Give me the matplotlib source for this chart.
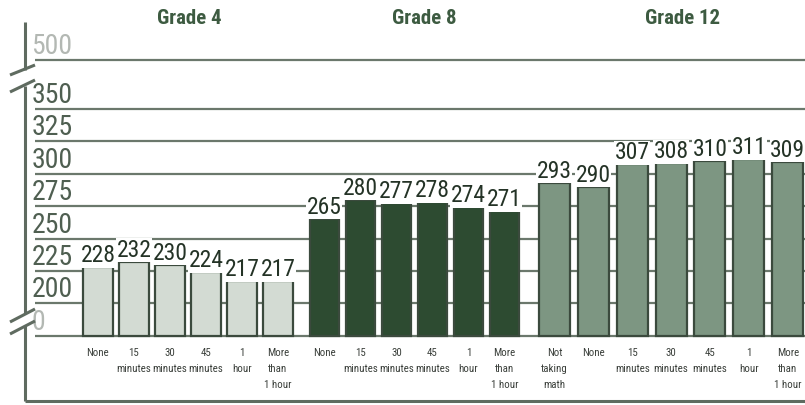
import numpy as np
import matplotlib
matplotlib.use("Agg")
import matplotlib.pyplot as plt

output = "out.png"
plt.rcParams['font.family'] = ['Roboto Condensed', 'Liberation Sans Narrow', 'Roboto', 'DejaVu Sans']

grades = ["Grade 4", "Grade 8", "Grade 12"]
grade4 = [228, 232, 230, 224, 217, 217]
grade8 = [265, 280, 277, 278, 274, 271]
grade12 = [293, 290, 307, 308, 310, 311, 309]
labels4 = ["None", "15\nminutes", "30\nminutes", "45\nminutes", "1\nhour", "More\nthan\n1 hour"]
labels8 = ["None", "15\nminutes", "30\nminutes", "45\nminutes", "1\nhour", "More\nthan\n1 hour"]
labels12 = ["Not\ntaking\nmath", "None", "15\nminutes", "30\nminutes", "45\nminutes", "1\nhour", "More\nthan\n1 hour"]
yticks = [0, 200, 225, 250, 275, 300, 325, 350, 500]

fills = ["#d3dbd3", "#2d4b31", "#7d9682"]
edge = "#3b4a3d"
grid_c = "#6b786c"
W, H = 805, 405


def fwd(v):
    v = np.asarray(v, dtype=float)
    return np.where(v <= 200, 175 + v / 8.0,
                    np.where(v <= 350, v, 350 + (v - 350) * 0.2513))


def inv(t):
    t = np.asarray(t, dtype=float)
    return np.where(t <= 200, (t - 175) * 8.0,
                    np.where(t <= 350, t, 350 + (t - 350) / 0.2513))


def px(x, y):
    # pixel (from top-left) -> axes fraction
    return x / W, 1 - y / H


fig = plt.figure(figsize=(8.05, 4.05), dpi=100)
ax = fig.add_axes([0, 0, 1, 1])
ax.set_yscale('function', functions=(fwd, inv))
ax.set_xlim(-2.72, 19.64)
ax.set_ylim(-424.8, 682.3)
ax.axis('off')

# gridlines
ax.hlines(yticks, -1.75, 19.64, color=grid_c, lw=1.6, zorder=1)
for t in yticks:
    c = "#b3b8b3" if t in (0, 500) else "#4f5f51"
    ax.text(-1.85, t, str(t), fontsize=20, color=c, ha='left', va='bottom', zorder=2)

groups = [(grade4, labels4, 0.0, 1.0, 0.81),
          (grade8, labels8, 6.29, 1.0, 0.81),
          (grade12, labels12, 12.68, 1.08, 0.86)]
title_x = [2.55, 9.06, 16.25]

for gi, (vals, labs, start, step, w) in enumerate(groups):
    x = start + step * np.arange(len(vals))
    ax.bar(x, vals, width=w, color=fills[gi], edgecolor=edge, linewidth=1.6, zorder=3)
    for xi, v in zip(x, vals):
        ax.text(xi, v, str(v), fontsize=17, color="#243326", ha='center', va='bottom', zorder=4,
                bbox=dict(boxstyle='square,pad=0.02', fc='white', ec='none'))
    for xi, lab in zip(x, labs):
        ax.text(xi, px(0, 348)[1], lab, transform=ax.get_xaxis_transform(), fontsize=7.8,
                color="#3a3f3a", ha='center', va='top', linespacing=1.75)
    ax.text(title_x[gi], px(0, 18)[1], grades[gi], transform=ax.get_xaxis_transform(),
            fontsize=15, fontweight='bold', color="#3d5b41", ha='center', va='center')

# frame with axis breaks
lc = "#5f6b60"
segs = [[(25, 22), (25, 70)], [(25, 86), (25, 313)], [(25, 326), (25, 401)], [(25, 401), (805, 401)],
        [(10, 75), (35, 65)], [(10, 92), (35, 80)], [(10, 322), (35, 309)], [(10, 334), (35, 321)]]
for s in segs:
    (x0, y0), (x1, y1) = px(*s[0]), px(*s[1])
    ax.plot([x0, x1], [y0, y1], transform=ax.transAxes, color=lc, lw=2.2, clip_on=False,
            solid_capstyle='butt')

plt.savefig(output, dpi=100)
plt.close()
